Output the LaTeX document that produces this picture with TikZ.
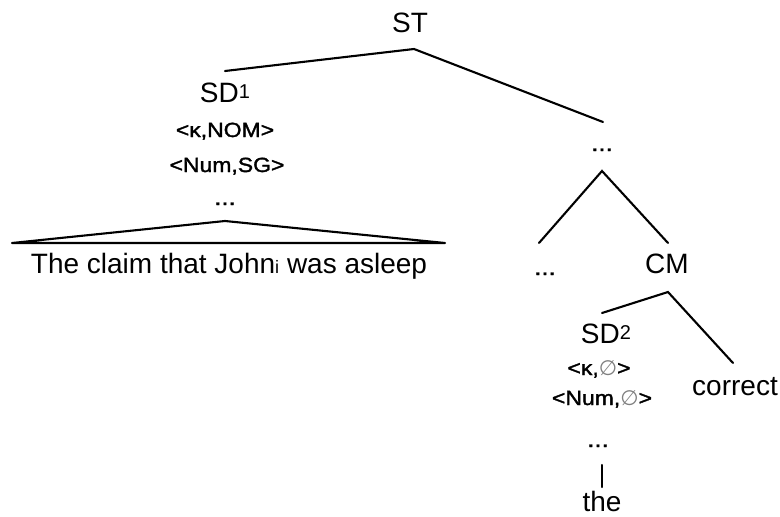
\documentclass[tikz,border=0pt]{standalone}
\usepackage{fontspec}
\setmainfont{Liberation Sans}
\newfontfamily\smallf[FakeStretch=1.12,FakeBold=1.6]{Liberation Sans}
\newfontfamily\dejavu{DejaVu Sans}
\newcommand{\myempty}{{\dejavu\color{gray}\fontsize{21}{24}\selectfont ∅}}
\newcommand{\supnum}[1]{\raisebox{3.5pt}{\fontsize{20}{20}\selectfont #1}}
\begin{document}
\begin{tikzpicture}[x=1pt,y=-1pt,
  big/.style={inner sep=0pt,anchor=base,font=\fontsize{28}{32}\selectfont},
  feat/.style={inner sep=0pt,anchor=base,font=\smallf\fontsize{20.5}{24}\selectfont},
  dots/.style={inner sep=0pt,anchor=base,font=\smallf\fontsize{23}{24}\selectfont},
  edge/.style={line width=2.1pt,line cap=round,line join=miter}]
\useasboundingbox (0,0) rectangle (780,517);
% left subtree
\node[big] (ST) at (410,32) {ST};
\node[big] (SD1) at (225,102) {SD\supnum{1}};
\node[feat] (f1) at (225,137) {<κ,NOM>};
\node[feat] (f2) at (227,172) {<Num,SG>};
\node[dots] (d1) at (225,205) {...};
\node[big] (txt) at (229,273) {The claim that John{\fontsize{18}{20}\selectfont i} was asleep};
% right subtree
\node[dots] (d2) at (602,151) {...};
\node[dots] (d3) at (545,275) {...};
\node[big] (CM) at (667,273) {CM};
\node[big] (SD2) at (606,343) {SD\supnum{2}};
\node[feat] (f3) at (599,375) {<κ,\myempty>};
\node[feat] (f4) at (602,405) {<Num,\myempty>};
\node[big] (corr) at (735,395) {correct};
\node[dots] (d4) at (598,447) {...};
\node[big] (the) at (602,511) {the};
% connector points
\coordinate (STb) at (414,49);
\coordinate (SD1t) at (225,71);
\coordinate (d2t) at (603,122);
\coordinate (d2b) at (602,171);
\coordinate (d3t) at (539,243);
\coordinate (CMt) at (668,243);
\coordinate (CMb) at (668,292);
\coordinate (SD2t) at (602,313);
\coordinate (corrt) at (733,363);
\coordinate (triA) at (225,221);
\coordinate (triL) at (12,243);
\coordinate (triR) at (445,243);
\coordinate (d4b) at (602,465);
\coordinate (thet) at (602,487);
% edges
\draw[edge] (SD1t) -- (STb) -- (d2t);
\draw[edge] (d3t) -- (d2b) -- (CMt);
\draw[edge] (SD2t) -- (CMb) -- (corrt);
\draw[edge,line join=round] (triL) -- (triA) -- (triR) -- cycle;
\draw[edge] (d4b) -- (thet);
\end{tikzpicture}
\end{document}
